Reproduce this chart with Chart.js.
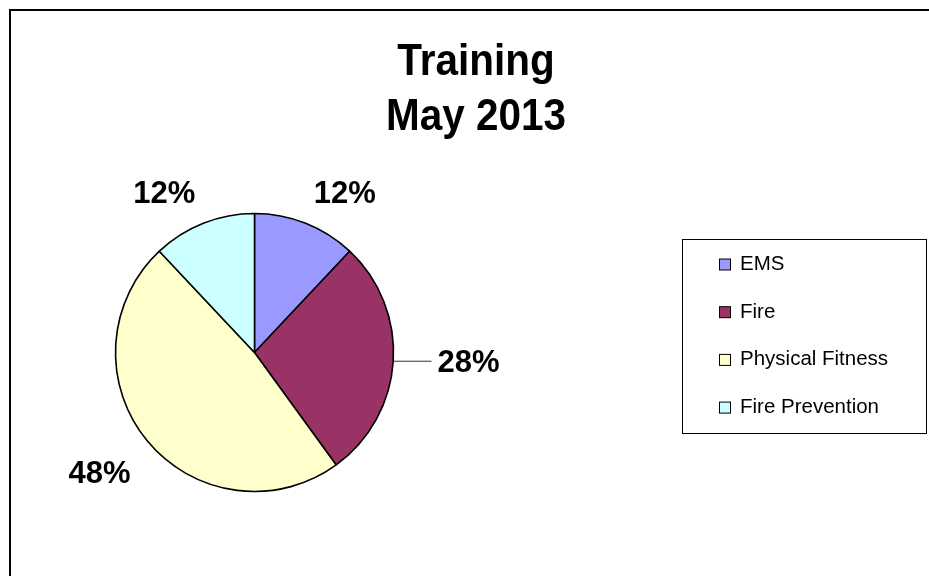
<!DOCTYPE html>
<html>
<head>
<meta charset="utf-8">
<script src="https://cdn.jsdelivr.net/npm/chart.js@4/dist/chart.umd.min.js"></script>
<style>
  html, body { margin: 0; padding: 0; background: #fff; }
  canvas { display: block; }
</style>
</head>
<body>
<canvas id="pie" width="929" height="576"></canvas>
<script>
const TITLE_LINES = ["Training", "May 2013"];
const CATEGORIES = ["EMS", "Fire", "Physical Fitness", "Fire Prevention"];
const SHARES = [12, 28, 48, 12];
const SLICE_COLOURS = ["#9999FF", "#993366", "#FFFFCC", "#CCFFFF"];

const FONT = '"Liberation Sans", Arial, sans-serif';

// frame, title and the boxed legend, drawn the way the old spreadsheet chart did
const framePlugin = {
  id: "frame",
  beforeDraw(chart) {
    const ctx = chart.ctx;
    ctx.save();
    ctx.fillStyle = "#fff";
    ctx.fillRect(0, 0, chart.width, chart.height);
    ctx.strokeStyle = "#000";
    ctx.lineWidth = 2;
    ctx.strokeRect(10, 10, chart.width + 40, chart.height + 40);
    ctx.restore();
  },
  afterDraw(chart) {
    const ctx = chart.ctx;
    ctx.save();

    // title: two bold lines, slightly narrow like the source rendering
    ctx.fillStyle = "#000";
    ctx.font = `bold 44px ${FONT}`;
    ctx.textAlign = "center";
    ctx.textBaseline = "alphabetic";
    TITLE_LINES.forEach((line, i) => {
      ctx.save();
      ctx.translate(476, 75 + i * 55);
      ctx.scale(0.92, 1);
      ctx.fillText(line, 0, 0);
      ctx.restore();
    });

    // legend box
    ctx.lineWidth = 1;
    ctx.strokeStyle = "#000";
    ctx.strokeRect(682.5, 239.5, 244, 194);
    ctx.font = `20.5px ${FONT}`;
    ctx.textAlign = "left";
    const ds = chart.data.datasets[0];
    chart.data.labels.forEach((label, i) => {
      const base = 270 + i * 47.7;
      ctx.fillStyle = ds.backgroundColor[i];
      ctx.fillRect(719.5, base - 11, 11, 11);
      ctx.strokeRect(719.5, base - 11, 11, 11);
      ctx.fillStyle = "#000";
      ctx.fillText(label, 740, base);
    });

    // percentage labels around the pie
    const total = ds.data.reduce((a, b) => a + b, 0);
    const meta = chart.getDatasetMeta(0);
    ctx.font = `bold 31px ${FONT}`;
    const cap = 22;
    meta.data.forEach((arc, i) => {
      const { x, y, startAngle, endAngle, outerRadius } =
        arc.getProps(["x", "y", "startAngle", "endAngle", "outerRadius"], true);
      const mid = (startAngle + endAngle) / 2;
      const c = Math.cos(mid), s = Math.sin(mid);
      const text = Math.round(ds.data[i] / total * 100) + "%";
      ctx.fillStyle = "#000";
      if (Math.abs(s) < 0.3) {
        const ex = x + outerRadius * c, ey = y + outerRadius * s;
        const lx = x + (outerRadius + 38) * Math.sign(c);
        ctx.beginPath();
        ctx.moveTo(ex, ey);
        ctx.lineTo(lx, ey);
        ctx.strokeStyle = "#333";
        ctx.lineWidth = 1;
        ctx.stroke();
        ctx.textAlign = c > 0 ? "left" : "right";
        ctx.fillText(text, lx + 6 * Math.sign(c), ey + cap / 2);
      } else {
        const d = outerRadius + 22;
        const px = x + d * c, py = y + d * s;
        ctx.textAlign = c > 0 ? "left" : "right";
        ctx.fillText(text, px, s < 0 ? py : py + cap + 6);
      }
    });
    ctx.restore();
  }
};

new Chart(document.getElementById("pie"), {
  type: "pie",
  data: {
    labels: CATEGORIES,
    datasets: [{
      data: SHARES,
      backgroundColor: SLICE_COLOURS,
      borderColor: "#000",
      borderWidth: 1.6,
      radius: 139,
    }]
  },
  options: {
    responsive: false,
    animation: false,
    layout: { padding: { left: 110, right: 530, top: 208, bottom: 79 } },
    plugins: {
      legend: { display: false },
      title: { display: false },
      tooltip: { enabled: false },
    },
  },
  plugins: [framePlugin],
});
</script>
</body>
</html>
